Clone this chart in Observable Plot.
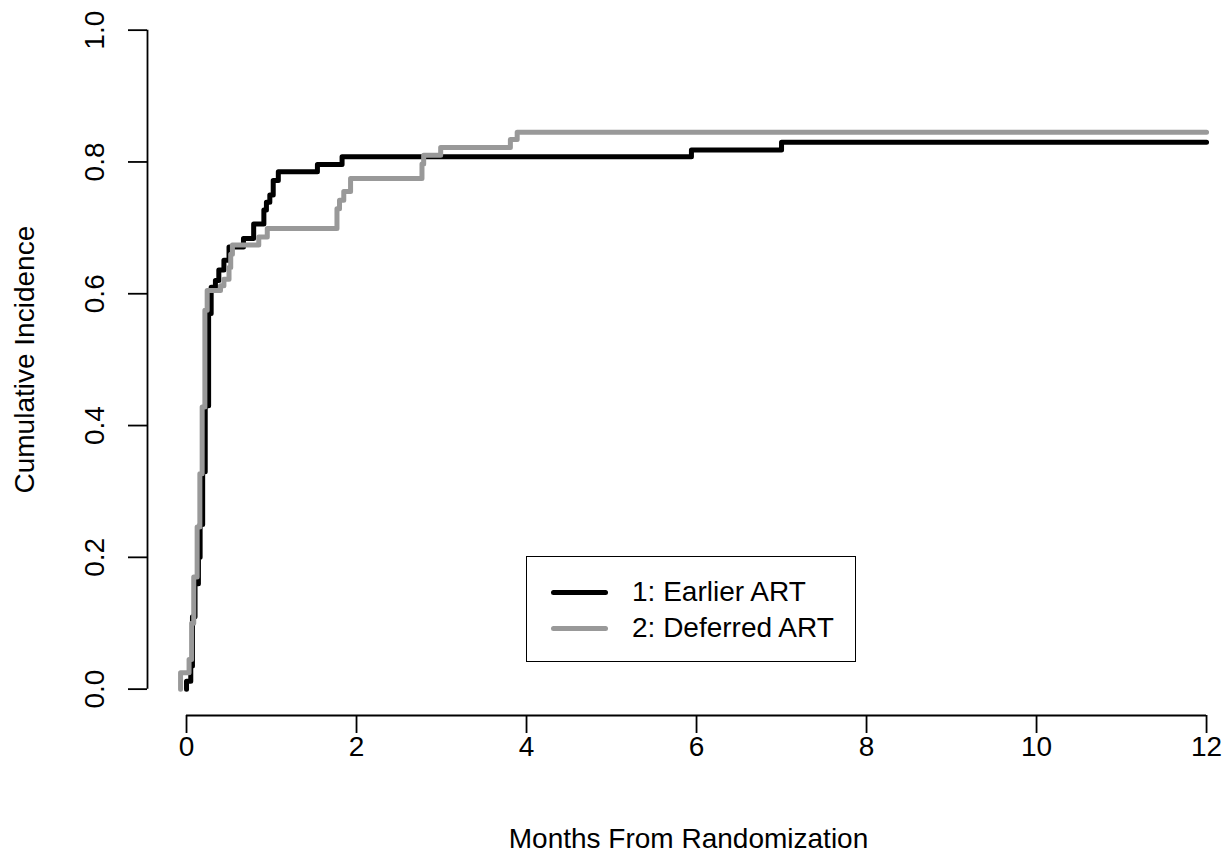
<!DOCTYPE html>
<html>
<head>
<meta charset="utf-8">
<script src="https://cdn.jsdelivr.net/npm/d3@7"></script>
<script src="https://cdn.jsdelivr.net/npm/@observablehq/plot@0.6"></script>
<style>
  html, body { margin: 0; padding: 0; background: #fff; }
  #wrap { position: relative; width: 1229px; height: 854px; font-family: "Liberation Sans", Arial, sans-serif; }
  #legend { position: absolute; left: 526px; top: 556px; width: 330px; height: 106px; box-sizing: border-box;
            border: 1.6px solid #000; background: #fff; font-size: 28px; color: #000; }
  .lg-line { position: absolute; left: 24px; width: 57px; height: 5px; border-radius: 3px; }
  .lg-text { position: absolute; left: 105px; white-space: nowrap; line-height: 30px; }
</style>
</head>
<body>
<div id="wrap"></div>
<script>
// ---- Data ----
const seriesNames = ["1: Earlier ART", "2: Deferred ART"];
const seriesColors = ["#000000", "#999999"];

const earlierTime = [0.00, 0.00, 0.05, 0.07, 0.10, 0.14, 0.16, 0.19, 0.22, 0.26, 0.29, 0.34, 0.38, 0.44, 0.50, 0.67, 0.79, 0.91, 0.94, 0.98, 1.02, 1.08, 1.54, 1.83, 5.94, 7.00, 12.00];
const earlierCI   = [0.000, 0.012, 0.035, 0.110, 0.160, 0.200, 0.250, 0.330, 0.430, 0.570, 0.610, 0.620, 0.636, 0.651, 0.671, 0.684, 0.706, 0.727, 0.739, 0.750, 0.772, 0.785, 0.796, 0.808, 0.818, 0.830, 0.830];

const deferredTime = [-0.07, -0.07, 0.03, 0.06, 0.085, 0.125, 0.157, 0.184, 0.216, 0.243, 0.40, 0.44, 0.50, 0.52, 0.54, 0.85, 0.95, 1.77, 1.80, 1.85, 1.93, 2.77, 2.79, 2.99, 3.81, 3.89, 12.00];
const deferredCI   = [0.000, 0.025, 0.045, 0.100, 0.170, 0.246, 0.327, 0.428, 0.575, 0.605, 0.612, 0.622, 0.640, 0.660, 0.674, 0.686, 0.699, 0.729, 0.742, 0.755, 0.775, 0.797, 0.810, 0.822, 0.834, 0.845, 0.845];

const xTicks = [0, 2, 4, 6, 8, 10, 12];
const yTicks = [0.0, 0.2, 0.4, 0.6, 0.8, 1.0];
const xDomain = [-0.459, 12.27];
const yDomain = [-0.04, 1.04];
const xTitle = "Months From Randomization";
const yTitle = "Cumulative Incidence";

// ---- Build tables ----
const earlier = earlierTime.map((t, i) => ({t, v: earlierCI[i], s: seriesNames[0]}));
const deferred = deferredTime.map((t, i) => ({t, v: deferredCI[i], s: seriesNames[1]}));

const chart = Plot.plot({
  width: 1229,
  height: 854,
  marginLeft: 147,
  marginRight: 0,
  marginTop: 3.3,
  marginBottom: 139,
  style: {fontFamily: "'Liberation Sans', Arial, sans-serif", fontSize: "28px", color: "#000", background: "#fff"},
  x: {domain: xDomain, axis: null},
  y: {domain: yDomain, axis: null},
  marks: [
    // axis lines (R style, from first to last tick)
    Plot.ruleY([yDomain[0]], {x1: xTicks[0], x2: xTicks[xTicks.length - 1], stroke: "#000", strokeWidth: 1.8}),
    Plot.ruleX([xDomain[0]], {y1: yTicks[0], y2: yTicks[yTicks.length - 1], stroke: "#000", strokeWidth: 1.8}),
    Plot.axisX(xTicks, {anchor: "bottom", tickSize: 18, tickPadding: 3, strokeWidth: 1.8, stroke: "#000", fill: "#000", fontSize: 28, tickFormat: d => String(d), label: null}),
    Plot.axisY(yTicks, {anchor: "left", tickSize: 19, strokeWidth: 1.8, stroke: "#000", tickFormat: () => "", label: null}),
    Plot.text(yTicks, {y: d => d, text: d => d.toFixed(1), frameAnchor: "left", dx: -52, rotate: -90, fontSize: 28, fill: "#000", textAnchor: "middle", lineAnchor: "middle"}),
    Plot.text([xTitle], {frameAnchor: "bottom", dy: 124, fontSize: 28, fill: "#000", textAnchor: "middle", lineAnchor: "middle"}),
    Plot.text([yTitle], {frameAnchor: "left", dx: -122, rotate: -90, fontSize: 28, fill: "#000", textAnchor: "middle", lineAnchor: "middle"}),
    // curves
    Plot.line(earlier, {x: "t", y: "v", curve: "step-after", stroke: seriesColors[0], strokeWidth: 5, strokeLinejoin: "round", strokeLinecap: "round"}),
    Plot.line(deferred, {x: "t", y: "v", curve: "step-after", stroke: seriesColors[1], strokeWidth: 5, strokeLinejoin: "round", strokeLinecap: "round"})
  ]
});

const wrap = document.getElementById("wrap");
wrap.appendChild(chart);

// legend
const legend = document.createElement("div");
legend.id = "legend";
seriesNames.forEach((name, i) => {
  const line = document.createElement("div");
  line.className = "lg-line";
  line.style.background = seriesColors[i];
  line.style.top = (33 + i * 36) + "px";
  const txt = document.createElement("div");
  txt.className = "lg-text";
  txt.textContent = name;
  txt.style.top = (20 + i * 36) + "px";
  legend.appendChild(line);
  legend.appendChild(txt);
});
wrap.appendChild(legend);
</script>
</body>
</html>
